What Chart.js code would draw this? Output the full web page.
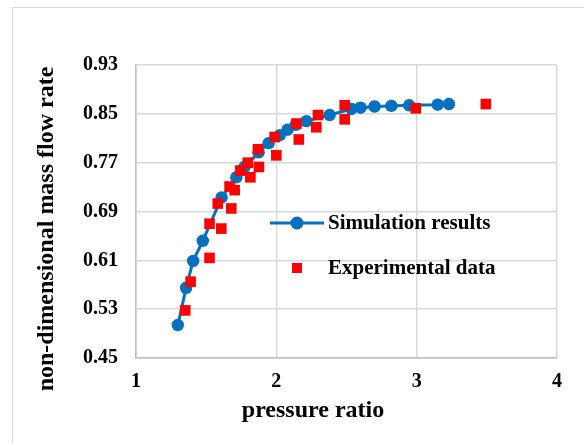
<!DOCTYPE html>
<html>
<head>
<meta charset="utf-8">
<script src="https://cdn.jsdelivr.net/npm/chart.js@4.4.1/dist/chart.umd.min.js"></script>
<style>
  html,body{margin:0;padding:0;background:#fff}
  #wrap{position:relative;width:584px;height:444px;overflow:hidden}
  #frame{position:absolute;left:12px;top:7px;width:640px;height:480px;border:1px solid #d9d9d9;box-sizing:border-box}
  #c{position:absolute;left:0;top:0}
</style>
</head>
<body>
<div id="wrap">
  <div id="frame"></div>
  <canvas id="c" width="584" height="444"></canvas>
</div>
<script>
// simulação
const simPressure = [1.298,1.357,1.407,1.476,1.61,1.715,1.774,1.874,1.945,2.024,2.08,2.138,2.214,2.38,2.535,2.60,2.70,2.82,2.947,3.15,3.23];
const simFlow     = [0.504,0.565,0.609,0.642,0.713,0.746,0.763,0.787,0.802,0.815,0.824,0.832,0.838,0.848,0.858,0.860,0.862,0.863,0.864,0.865,0.866];
// ensaios
const expPressure = [1.351,1.389,1.524,1.524,1.608,1.583,1.679,1.667,1.703,1.743,1.815,1.797,1.876,1.869,2.0,1.988,2.143,2.16,2.297,2.285,2.487,2.487,2.994,3.493];
const expFlow     = [0.528,0.575,0.614,0.670,0.662,0.703,0.695,0.731,0.725,0.757,0.746,0.770,0.763,0.792,0.782,0.812,0.834,0.808,0.848,0.828,0.864,0.841,0.859,0.866];

const xTicks = [1,2,3,4];
const yTicks = [0.45,0.53,0.61,0.69,0.77,0.85,0.93];

const FONT = '"Liberation Serif","Times New Roman",serif';
const BLUE = '#0070C0', RED = '#FF0000';

function pts(xs, ys){ return xs.map((x,i)=>({x:x, y:ys[i]})); }

// títulos dos eixos e legenda dentro da área do gráfico
const extras = {
  id: 'extras',
  afterDraw(chart){
    const ctx = chart.ctx;
    ctx.save();
    ctx.fillStyle = '#000';
    ctx.font = 'bold 24px ' + FONT;
    ctx.textAlign = 'center';
    ctx.textBaseline = 'middle';
    ctx.fillText('pressure ratio', 313, 411);
    ctx.translate(47, 229);
    ctx.rotate(-Math.PI/2);
    ctx.fillText('non-dimensional mass flow rate', 0, 0);
    ctx.restore();

    // legenda
    const ds = chart.data.datasets;
    ctx.save();
    ctx.font = 'bold 21px ' + FONT;
    ctx.textAlign = 'left';
    ctx.textBaseline = 'middle';
    const sim = ds[1], exp = ds[0];
    ctx.strokeStyle = BLUE; ctx.lineWidth = 3;
    ctx.beginPath(); ctx.moveTo(270,223); ctx.lineTo(324,223); ctx.stroke();
    ctx.fillStyle = BLUE;
    ctx.beginPath(); ctx.arc(297,223,6.5,0,Math.PI*2); ctx.fill();
    ctx.fillStyle = RED;
    ctx.fillRect(292,263,10,10);
    ctx.fillStyle = '#000';
    ctx.fillText(sim.label, 328, 224);
    ctx.fillText(exp.label, 328, 269);
    ctx.restore();
  }
};

new Chart(document.getElementById('c'), {
  type: 'scatter',
  data: {
    datasets: [
      {label:'Experimental data', data: pts(expPressure, expFlow), pointStyle:'rect',
       pointRadius:7.5, pointBackgroundColor:RED, pointBorderColor:RED, pointBorderWidth:0, showLine:false, order:0},
      {label:'Simulation results', data: pts(simPressure, simFlow), showLine:true, borderColor:BLUE, borderWidth:3,
       pointRadius:6.2, pointBackgroundColor:BLUE, pointBorderColor:BLUE, pointBorderWidth:0, tension:0, order:1}
    ]
  },
  options: {
    responsive:false, animation:false,
    layout:{padding:{top:65,right:27,left:0,bottom:0}},
    plugins:{legend:{display:false}, tooltip:{enabled:false}},
    scales:{
      x:{
        min:1, max:4,
        afterBuildTicks: s => { s.ticks = xTicks.map(v=>({value:v})); },
        afterFit: s => { s.height = 86; },
        grid:{color:'#d9d9d9', lineWidth:1.5, drawTicks:false},
        border:{color:'#bfbfbf', width:1.5},
        ticks:{padding:12, color:'#000', font:{family:FONT, size:20, weight:'bold'}}
      },
      y:{
        min:0.45, max:0.93,
        afterBuildTicks: s => { s.ticks = yTicks.map(v=>({value:v})); },
        afterFit: s => { s.width = 136; },
        grid:{color:'#d9d9d9', lineWidth:1.5, drawTicks:false},
        border:{color:'#bfbfbf', width:1.5},
        ticks:{padding:18, color:'#000', font:{family:FONT, size:20, weight:'bold'}, callback: v => v.toFixed(2)}
      }
    }
  },
  plugins:[extras]
});
</script>
</body>
</html>
